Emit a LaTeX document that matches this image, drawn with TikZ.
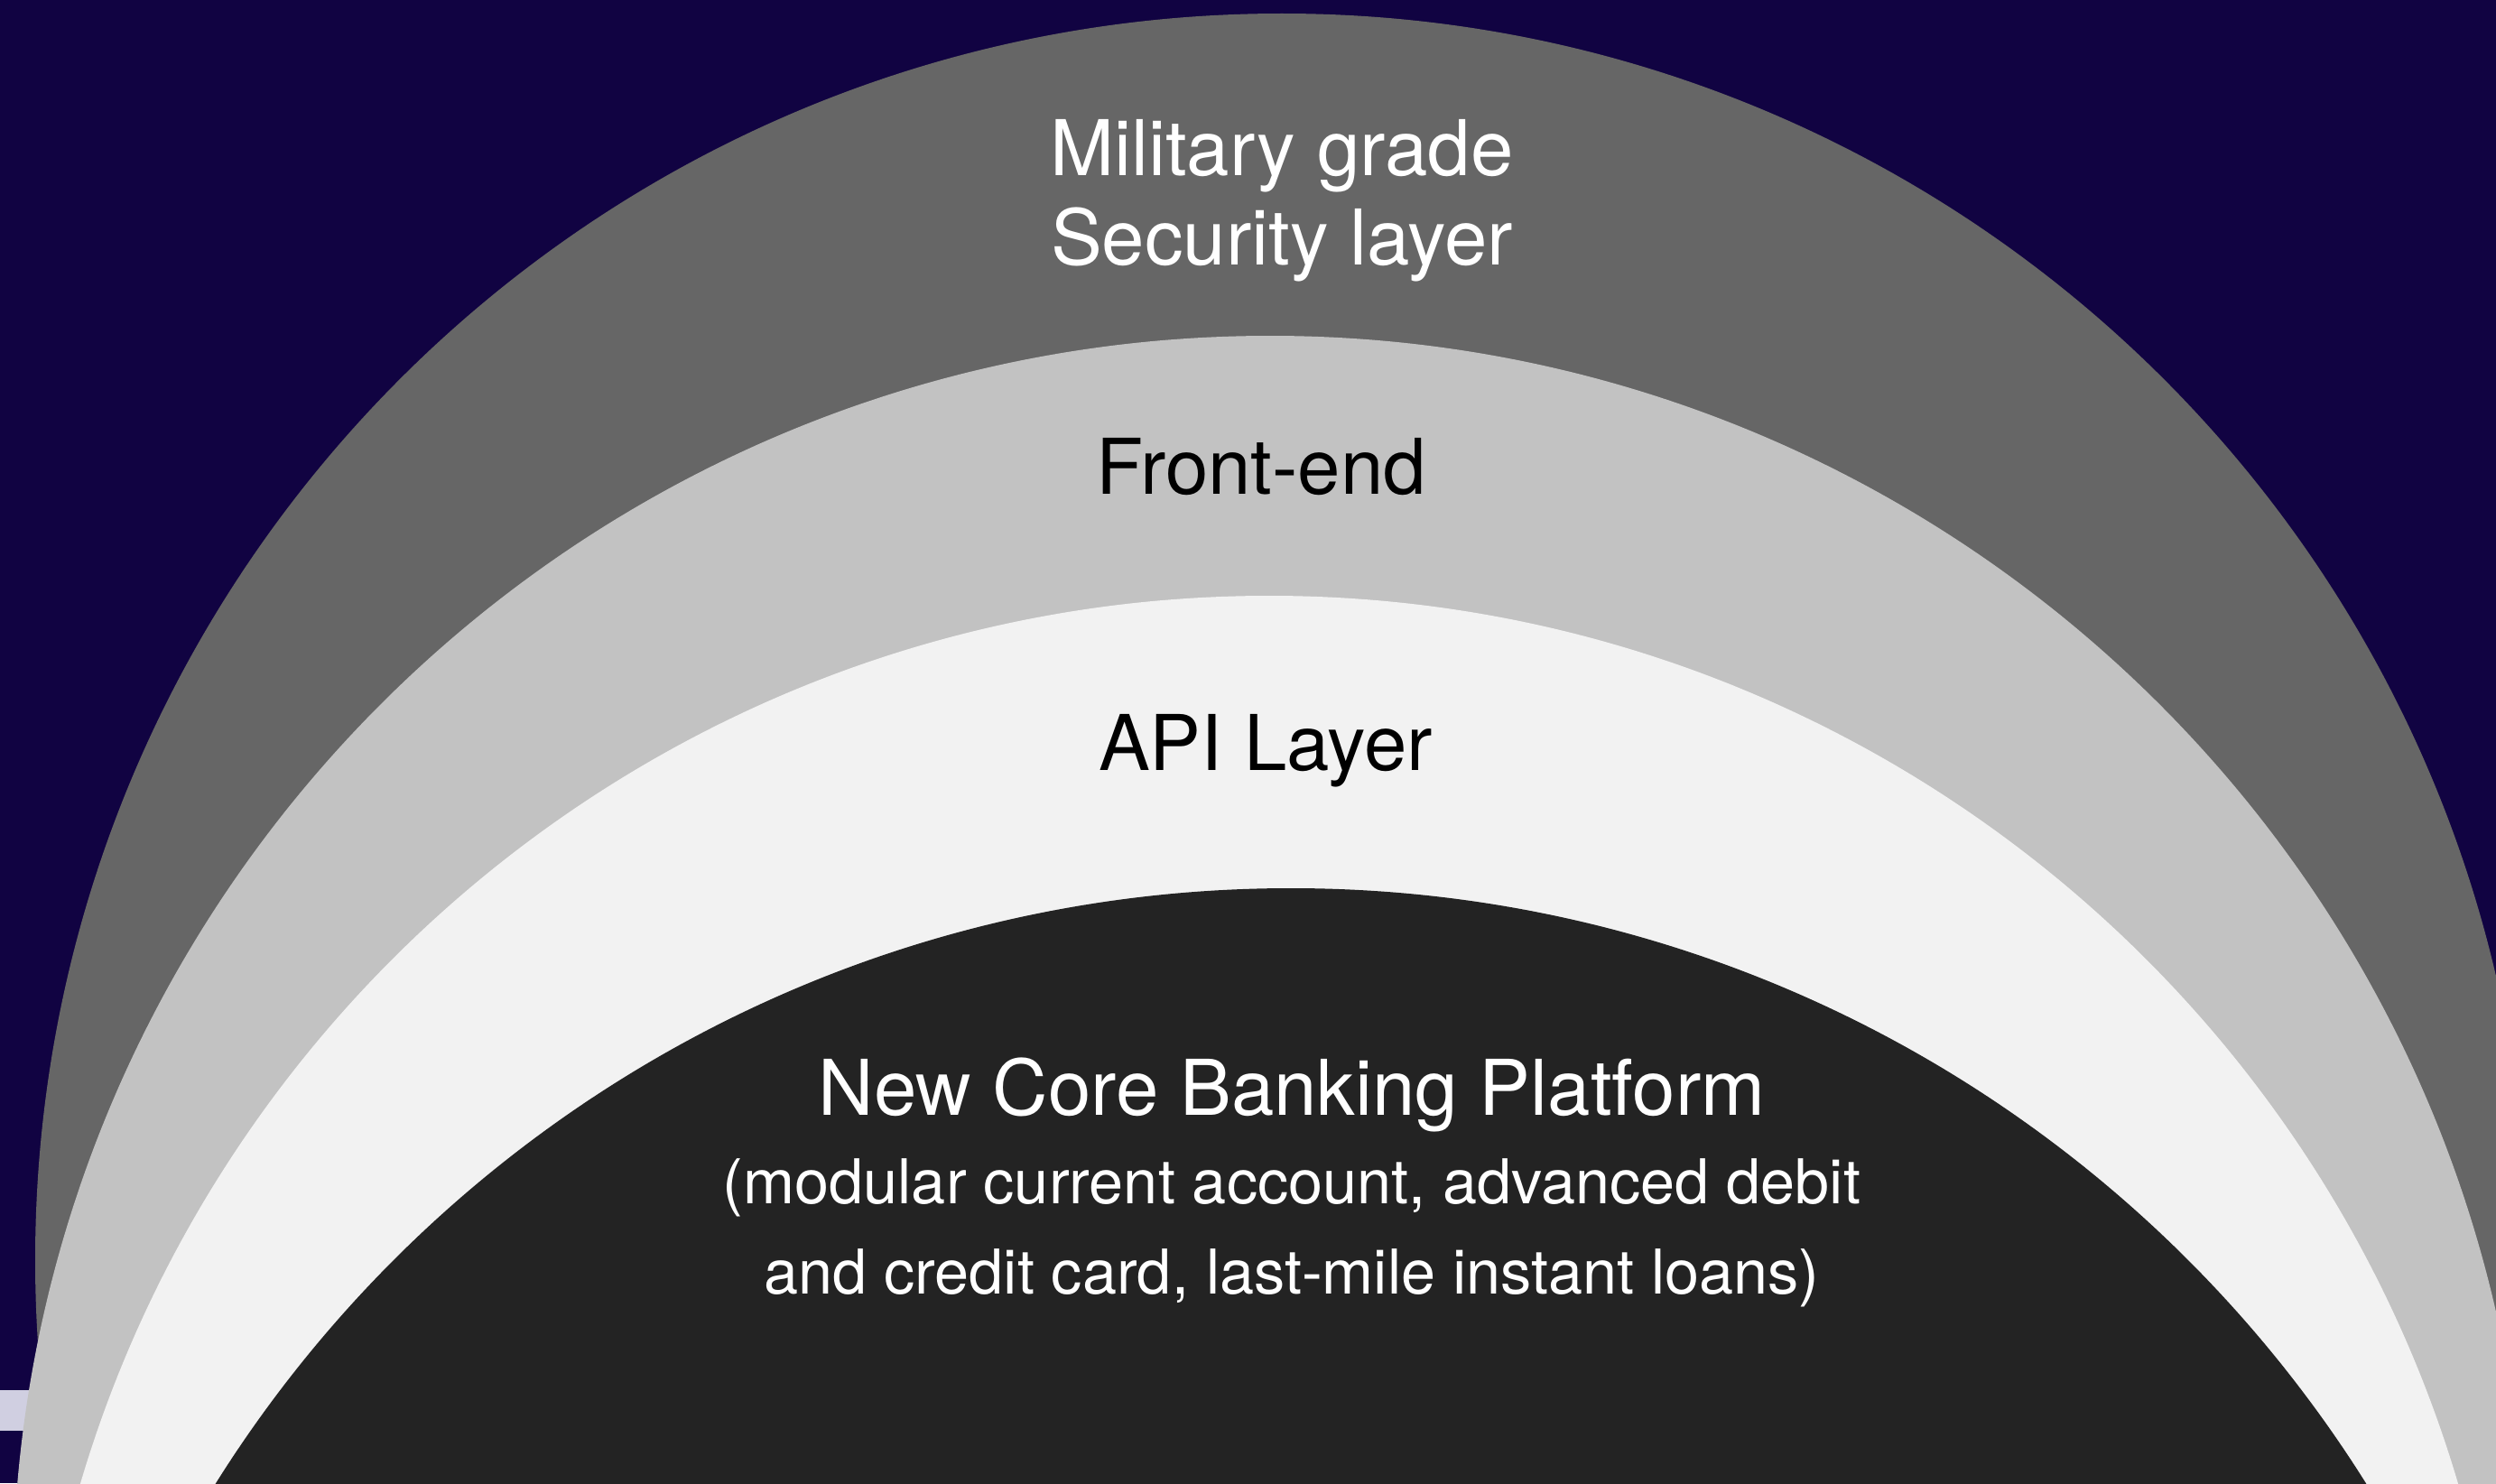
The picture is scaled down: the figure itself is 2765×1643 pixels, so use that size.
\documentclass[tikz,border=0pt]{standalone}
\usepackage{fontspec}
\setmainfont{TeX Gyre Heros}
\usepackage{tikz}

\definecolor{night}{HTML}{110342}
\definecolor{lavender}{HTML}{D0CFE1}
\definecolor{securitygrey}{HTML}{666666}
\definecolor{frontgrey}{HTML}{C2C2C2}
\definecolor{apigrey}{HTML}{F2F2F2}
\definecolor{coreblack}{HTML}{232323}

\begin{document}
\begin{tikzpicture}[x=0.25pt,y=0.25pt,
  ring/.style={fill=#1},
  bigtext/.style={font=\fontsize{21.3}{25}\selectfont,inner sep=0pt,anchor=base},
  smalltext/.style={font=\fontsize{17.1}{25}\selectfont,inner sep=0pt,anchor=base}]
\useasboundingbox (0,0) rectangle (2765,1643);
\clip (0,0) rectangle (2765,1643);
\fill[night] (0,0) rectangle (2765,1643);
\fill[lavender] (0,58) rectangle (60,103);
% the four layers, outside in
\fill[ring=securitygrey] (1420,247) circle[radius=1381];
\fill[ring=frontgrey] (1407,-122) circle[radius=1393];
\fill[ring=apigrey] (1406,-390) circle[radius=1373];
\fill[ring=coreblack] (1430,-746) circle[radius=1405];
% labels
\node[bigtext,text=white] (mil) at (1420,1448) {Military grade};
\node[bigtext,text=white] (sec) at (1420,1350) {Security layer};
\node[bigtext,text=black] (front) at (1397,1096) {Front-end};
\node[bigtext,text=black] (api) at (1402,790) {API Layer};
\node[bigtext,text=white] (core) at (1431,408) {New Core Banking Platform};
\node[smalltext,text=white] (mods) at (1431,310) {(modular current account, advanced debit};
\node[smalltext,text=white] (loans) at (1431,210) {and credit card, last-mile instant loans)};
\end{tikzpicture}
\end{document}
